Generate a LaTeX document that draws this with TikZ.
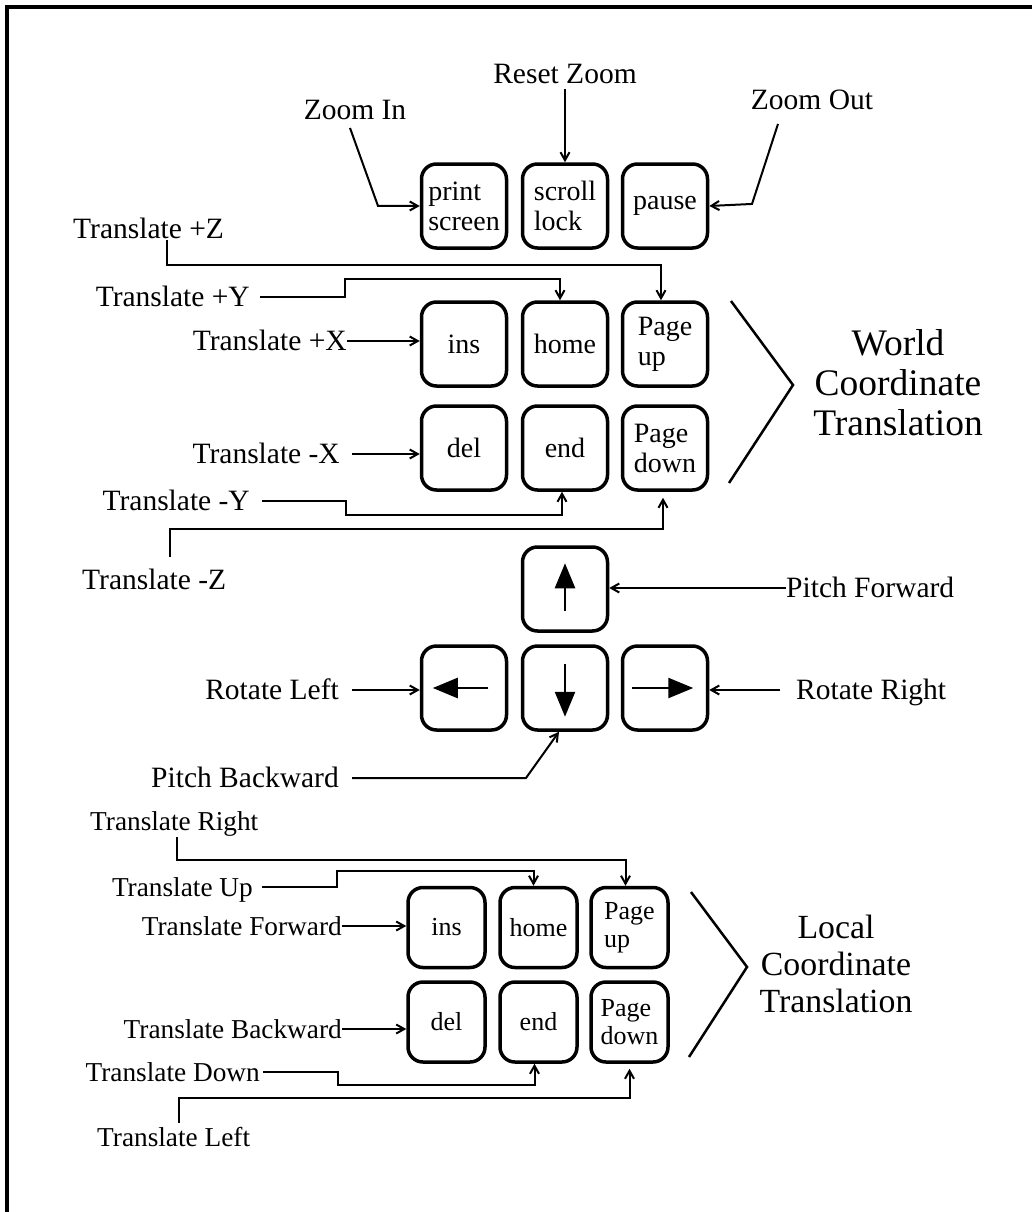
\documentclass[tikz,border=0pt]{standalone}
\usepackage{fontspec}
\setmainfont{Liberation Serif}
\usetikzlibrary{arrows.meta, calc, positioning}

\begin{document}
\begin{tikzpicture}[x=1pt, y=-1pt, >={Straight Barb[length=8pt,width=9pt]}]
	\tikzstyle{key}=[draw=black, line width=3.5pt, rounded corners=15pt, minimum width=85pt, minimum height=84pt, inner sep=0pt, align=left, font=\fontsize{28}{30}\selectfont]
	\tikzstyle{lkey}=[key, minimum width=77pt, minimum height=80pt, font=\fontsize{26}{28}\selectfont]
	\tikzstyle{lbl}=[inner sep=0pt, text height=19.5pt, text depth=0pt, font=\fontsize{29.5}{32}\selectfont]
	\tikzstyle{llbl}=[lbl, text height=18pt, font=\fontsize{27.3}{30}\selectfont]
	\tikzstyle{conn}=[line width=2pt, ->]
	\tikzstyle{glyph}=[line width=2.5pt, -{Triangle[length=25pt,width=20pt]}]
	\tikzstyle{brace}=[line width=2.5pt]
	\tikzstyle{group}=[align=center, inner sep=0pt]
	
	\useasboundingbox (0,0) rectangle (1032,1212);
	\fill[white] (0,0) rectangle (1032,1212);
	\draw[line width=4pt] (7,1212) -- (7,7) -- (1032,7);
	
	%% world keys
	\node[key] (zprt) at (464,206) {print\\screen};
	\node[key] (zscr) at (565,206) {scroll\\lock};
	\node[key] (zpau) at (665,206) {pause};
	\node[key] (wins) at (464,344) {ins};
	\node[key] (whome) at (565,344) {home};
	\node[key] (wpgup) at (665,344) {Page\\up};
	\node[key] (wdel) at (464,448) {del};
	\node[key] (wend) at (565,448) {end};
	\node[key] (wpgdn) at (665,448) {Page\\down};
	
	%% cursor keys
	\node[key] (aup) at (565,589) {};
	\node[key] (aleft) at (464,688) {};
	\node[key] (adown) at (565,688) {};
	\node[key] (aright) at (665,688) {};
	\draw[glyph] ([yshift=22pt]aup.south) -- ([yshift=-18pt]aup.north);
	\draw[glyph] ([yshift=-20pt]adown.north) -- ([yshift=15pt]adown.south);
	\draw[glyph] ([xshift=-20pt]aleft.east) -- ([xshift=13pt]aleft.west);
	\draw[glyph] ([xshift=11pt]aright.west) -- ([xshift=-16pt]aright.east);
	
	%% local keys
	\node[lkey] (lins) at (446.5,927.5) {ins};
	\node[lkey] (lhome) at (538.5,927.5) {home};
	\node[lkey] (lpgup) at (629.5,927.5) {Page\\up};
	\node[lkey] (ldel) at (446.5,1022) {del};
	\node[lkey] (lend) at (538.5,1022) {end};
	\node[lkey] (lpgdn) at (629.5,1022) {Page\\down};
	
	%% labels
	\node[lbl] (zin) at (355,110) {Zoom In};
	\node[lbl] (rz) at (565,74) {Reset Zoom};
	\node[lbl] (zout) at (812,100) {Zoom Out};
	\node[lbl, anchor=west] (tpz) at (73,229) {Translate +Z};
	\node[lbl, anchor=east] (tpy) at (250,297) {Translate +Y};
	\node[lbl, anchor=east] (tpx) at (347,341) {Translate +X};
	\node[lbl, anchor=east] (tmx) at (340,454) {Translate -X};
	\node[lbl, anchor=east] (tmy) at (250,501) {Translate -Y};
	\node[lbl, anchor=west] (tmz) at (82,580) {Translate -Z};
	\node[lbl, anchor=west] (pf) at (786,588) {Pitch Forward};
	\node[lbl, anchor=east] (rl) at (339,690) {Rotate Left};
	\node[lbl, anchor=west] (rr) at (796,690) {Rotate Right};
	\node[lbl, anchor=east] (pb) at (339,778) {Pitch Backward};
	
	\node[llbl, anchor=west] (tr) at (90,821) {Translate Right};
	\node[llbl, anchor=east] (tu) at (253,887) {Translate Up};
	\node[llbl, anchor=east] (tfw) at (342,926) {Translate Forward};
	\node[llbl, anchor=east] (tbw) at (342,1029) {Translate Backward};
	\node[llbl, anchor=east] (td) at (260,1072) {Translate Down};
	\node[llbl, anchor=west] (tl) at (97,1137) {Translate Left};
	
	\node[group, font=\fontsize{37.5}{40}\selectfont] (wct) at (898,383) {World\\Coordinate\\Translation};
	\node[group, font=\fontsize{33.8}{37}\selectfont] (lct) at (836,964) {Local\\Coordinate\\Translation};
	\draw[brace] (731,301) -- (793,385) -- (729,483);
	\draw[brace] (691,892) -- (747,967) -- (689,1057);
	
	%% connectors, world
	\draw[conn] ($(zin.south)+(-5,8)$) -- ++(28,78) -- (zprt.west);
	\draw[conn] ([yshift=-5pt]rz.south) -- (zscr.north);
	\draw[conn] ($(zout.south)+(-34,14)$) -- ++(-26,80) -- (zpau.east);
	\draw[conn] ($(tpz.south west)+(94,1)$) -- ++(0,25) -| ([xshift=-4pt]wpgup.north);
	\draw[conn] ([xshift=10pt]tpy.east) -- ++(85,0) -- ++(0,-18) -| ([xshift=-5pt]whome.north);
	\draw[conn] (tpx.east) -- (tpx.east -| wins.west);
	\draw[conn] ([xshift=12pt]tmx.east) -- (tmx.east -| wdel.west);
	\draw[conn] ([xshift=12pt]tmy.east) -- ++(84,0) -- ++(0,14) -| ([xshift=-3pt]wend.south);
	\draw[conn] ($(tmz.north west)+(88,-13)$) -- ++(0,-28) -| ([xshift=-2pt,yshift=-6pt]wpgdn.south);
	
	%% connectors, cursor
	\draw[conn] (pf.west) -- (pf.west -| aup.east);
	\draw[conn] ([xshift=13pt]rl.east) -- (rl.east -| aleft.west);
	\draw[conn] ([xshift=-16pt]rr.west) -- (rr.west -| aright.east);
	\draw[conn] ([xshift=13pt]pb.east) -- ++(174,0) -- ([xshift=-6pt]adown.south);
	
	%% connectors, local
	\draw[conn] ($(tr.south west)+(87,7)$) -- ++(0,23) -| ([xshift=-4pt]lpgup.north);
	\draw[conn] ([xshift=9pt]tu.east) -- ++(75,0) -- ++(0,-16) -| ([xshift=-5pt]lhome.north);
	\draw[conn] (tfw.east) -- (tfw.east -| lins.west);
	\draw[conn] (tbw.east) -- (tbw.east -| ldel.west);
	\draw[conn] ([xshift=3pt]td.east) -- ++(75,0) -- ++(0,13) -| ([xshift=-4pt]lend.south);
	\draw[conn] ($(tl.north west)+(82,-5)$) -- ++(0,-25) -| ([yshift=-5pt]lpgdn.south);
\end{tikzpicture}
\end{document}
